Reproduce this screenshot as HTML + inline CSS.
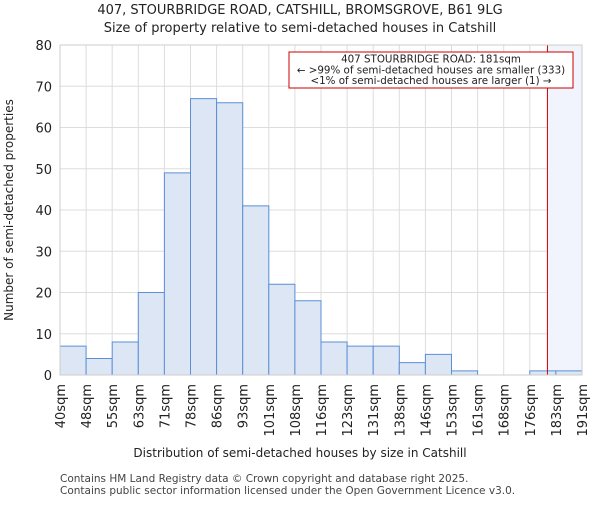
<!DOCTYPE html>
<html><head><meta charset="utf-8"><style>
body{margin:0;background:#fff;font-family:"Liberation Sans","DejaVu Sans",sans-serif}
</style></head><body>
<svg id="c" width="600" height="500" xmlns="http://www.w3.org/2000/svg" font-family="DejaVu Sans, Liberation Sans, sans-serif">
<text x="300" y="14" text-anchor="middle" font-size="13" fill="#222">407, STOURBRIDGE ROAD, CATSHILL, BROMSGROVE, B61 9LG</text>
<text x="300" y="32" text-anchor="middle" font-size="13" fill="#222">Size of property relative to semi-detached houses in Catshill</text>
<g id="grid"></g><g id="bars"></g><g id="axes"></g>
<text x="300" y="457" text-anchor="middle" font-size="12" fill="#222">Distribution of semi-detached houses by size in Catshill</text>
<text transform="translate(13,210) rotate(-90)" text-anchor="middle" font-size="12" fill="#222">Number of semi-detached properties</text>
<text x="60" y="482" font-size="10.5" fill="#444">Contains HM Land Registry data © Crown copyright and database right 2025.</text>
<text x="60" y="494" font-size="10.5" fill="#444">Contains public sector information licensed under the Open Government Licence v3.0.</text>
</svg>
<script>
const categories=["40sqm","48sqm","55sqm","63sqm","71sqm","78sqm","86sqm","93sqm","101sqm","108sqm","116sqm","123sqm","131sqm","138sqm","146sqm","153sqm","161sqm","168sqm","176sqm","183sqm","191sqm"];
const counts=[7,4,8,20,49,67,66,41,22,18,8,7,7,3,5,1,0,0,1,1];
const yTicks=[0,10,20,30,40,50,60,70,80];
const propertySize=181;
const binStart=40, binWidth=7.55;
const NS="http://www.w3.org/2000/svg";
const L=60,R=582,T=45,B=375,yMax=80;
const bw=(R-L)/counts.length;
const xs=i=>L+i*bw;
const y=v=>B-(B-T)*v/yMax;
const xv=v=>L+(v-binStart)/binWidth*bw;
function mk(p,tag,a){const e=document.createElementNS(NS,tag);for(const k in a)e.setAttribute(k,a[k]);p.appendChild(e);return e;}
const g=document.getElementById('grid'),b=document.getElementById('bars'),ax=document.getElementById('axes');
yTicks.forEach(t=>{
 const l=mk(g,'line',{x1:L,x2:R,y1:y(t),y2:y(t),stroke:'#ddd'});
 
 
 const tx=mk(ax,'text',{x:L-8,y:y(t)+5,'text-anchor':'end','font-size':13,fill:'#222'});
 tx.textContent=t;
 
 
});
categories.forEach((c,i)=>{
 const x=xs(i);
 const l=mk(g,'line',{x1:x,x2:x,y1:T,y2:B,stroke:'#ddd'});
 
 
 const tx=mk(ax,'text',{transform:`translate(${x+5},${384}) rotate(-90)`,'text-anchor':'end','font-size':13,fill:'#222'});
 tx.textContent=c;
 
 
});
const px=xv(propertySize);
const sh=mk(b,'rect',{x:px,y:T,width:R-px,height:B-T,fill:'#f1f4fc'});


counts.forEach((v,i)=>{
 const r=mk(b,'rect',{x:xs(i),y:y(v),width:bw,height:B-y(v),fill:'#dce6f4',stroke:'#5b8fd6','stroke-width':1});
 
 
});
const pl=mk(b,'line',{x1:px,x2:px,y1:T,y2:B,stroke:'#c00','stroke-width':1});


const fr=mk(ax,'rect',{x:L,y:T,width:R-L,height:B-T,fill:'none',stroke:'#ccc'});


const box=mk(ax,'g',{});


mk(box,'rect',{x:289,y:52,width:284,height:36,fill:'#fff',stroke:'#c00'});
["407 STOURBRIDGE ROAD: 181sqm","← >99% of semi-detached houses are smaller (333)","<1% of semi-detached houses are larger (1) →"].forEach((s,i)=>{
 const t=mk(box,'text',{x:431,y:62.5+i*10.8,'text-anchor':'middle','font-size':10.3,fill:'#222'});
 t.textContent=s;
 
 
});
</script>
</body></html>
